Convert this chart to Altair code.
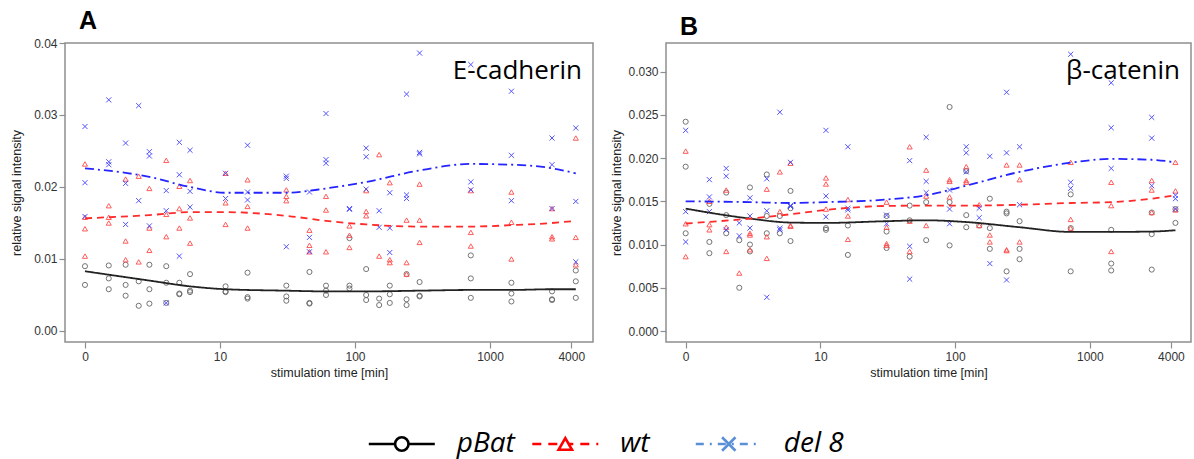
import math
import altair as alt
import pandas as pd

GROUPS = ["pBat", "wt", "del 8"]
PANEL_LABELS = ["E-cadherin", "β-catenin"]
PANEL_LETTERS = ["A", "B"]
X_TICK_LABELS = [0, 10, 100, 1000, 4000]
Y_TICKS_A = [0.0, 0.01, 0.02, 0.03, 0.04]
Y_TICKS_B = [0.0, 0.005, 0.010, 0.015, 0.020, 0.025, 0.030]
CURVE_T = [0, 2, 5, 10, 30, 60, 120, 300, 720, 1440, 2880, 4320]

# ---------- Panel A (E-cadherin) ----------
A_PBAT = {
    0: [0.0090, 0.0064], 0.5: [0.0091, 0.0073, 0.0058], 1: [0.0092, 0.0064, 0.0049],
    1.5: [0.0069, 0.0035], 2: [0.0092, 0.0058, 0.0038], 3: [0.0090, 0.0067, 0.0039],
    4: [0.0067, 0.0052, 0.0051], 5: [0.0079, 0.0056, 0.0054], 10: [0.0062, 0.0055, 0.0054],
    15: [0.0081, 0.0047, 0.0045], 30: [0.0063, 0.0048, 0.0042], 45: [0.0082, 0.0039, 0.0038],
    60: [0.0063, 0.0056, 0.0050], 90: [0.0129, 0.0063, 0.0059], 120: [0.0086, 0.0050, 0.0043],
    150: [0.0045, 0.0036], 180: [0.0063, 0.0051, 0.0039], 240: [0.0079, 0.0044, 0.0036],
    300: [0.0068, 0.0049, 0.0048], 720: [0.0105, 0.0073, 0.0046], 1440: [0.0067, 0.0052, 0.0041],
    2880: [0.0055, 0.0044, 0.0043], 4320: [0.0084, 0.0069, 0.0046],
}
A_WT = {
    0: [0.0232, 0.0158, 0.0142, 0.0104], 0.5: [0.0174, 0.0158, 0.0150], 1: [0.0211, 0.0125, 0.0099],
    1.5: [0.0215, 0.0096], 2: [0.0198, 0.0143, 0.0112], 3: [0.0237, 0.0162, 0.0131],
    4: [0.0201, 0.0170, 0.0143], 5: [0.0209, 0.0157, 0.0122], 10: [0.0219, 0.0178, 0.0148],
    15: [0.0210, 0.0173, 0.0143], 30: [0.0196, 0.0187, 0.0181], 45: [0.0140, 0.0119, 0.0110],
    60: [0.0187, 0.0168, 0.0110], 90: [0.0146, 0.0133, 0.0116], 120: [0.0195, 0.0166, 0.0160],
    150: [0.0245, 0.0104], 180: [0.0206, 0.0099, 0.0095], 240: [0.0154, 0.0095, 0.0079],
    300: [0.0204, 0.0154, 0.0123], 720: [0.0195, 0.0137, 0.0118], 1440: [0.0193, 0.0151, 0.0100],
    2880: [0.0170, 0.0131, 0.0128], 4320: [0.0268, 0.0130, 0.0092],
}
A_DEL8 = {
    0: [0.0284, 0.0206, 0.0159], 0.5: [0.0321, 0.0235, 0.0231], 1: [0.0261, 0.0205, 0.0148],
    1.5: [0.0313, 0.0181], 2: [0.0249, 0.0243, 0.0146], 3: [0.0195, 0.0167, 0.0039],
    4: [0.0262, 0.0217, 0.0104], 5: [0.0251, 0.0194, 0.0172], 10: [0.0219, 0.0184],
    15: [0.0258, 0.0193, 0.0182], 30: [0.0215, 0.0212, 0.0117], 45: [0.0193, 0.0130, 0.0110],
    60: [0.0302, 0.0238, 0.0233], 90: [0.0170, 0.0169], 120: [0.0254, 0.0242, 0.0197],
    150: [0.0167, 0.0144], 180: [0.0192, 0.0143, 0.0109], 240: [0.0329, 0.0189, 0.0184],
    300: [0.0386, 0.0248, 0.0246], 720: [0.0370, 0.0207, 0.0196], 1440: [0.0333, 0.0244, 0.0181],
    2880: [0.0268, 0.0231, 0.0170], 4320: [0.0282, 0.0180, 0.0096],
}
A_FIT_PBAT = [0.0083, 0.0070, 0.0062, 0.0058, 0.0056, 0.0055, 0.0055, 0.0056, 0.0057, 0.0057, 0.0058, 0.0058]
A_FIT_WT = [0.01565, 0.0161, 0.0165, 0.0165, 0.0160, 0.0153, 0.0148, 0.0145, 0.0145, 0.0147, 0.0150, 0.0153]
A_FIT_DEL8 = [0.0226, 0.0214, 0.0200, 0.0192, 0.0192, 0.0198, 0.0207, 0.0223, 0.0232, 0.0231, 0.0226, 0.0219]

# ---------- Panel B (beta-catenin) ----------
B_PBAT = {
    0: [0.0242, 0.0190, 0.0113], 0.5: [0.0147, 0.0103, 0.0090], 1: [0.0160, 0.0134, 0.0113],
    1.5: [0.0105, 0.0050], 2: [0.0166, 0.0100, 0.0092], 3: [0.0181, 0.0133, 0.0113],
    4: [0.0133, 0.0113], 5: [0.0162, 0.0142, 0.0104], 10: [0.0119, 0.0117],
    15: [0.0122, 0.0088], 30: [0.0133, 0.0115, 0.0096], 45: [0.0145, 0.0128, 0.0086],
    60: [0.0149, 0.0105], 90: [0.0259, 0.0149, 0.0099], 120: [0.0185, 0.0134, 0.0120],
    150: [0.0122], 180: [0.0153, 0.0119, 0.0095], 240: [0.0138, 0.0136, 0.0069],
    300: [0.0127, 0.0095, 0.0083], 720: [0.0158, 0.0119, 0.0069], 1440: [0.0117, 0.0078, 0.0070],
    2880: [0.0137, 0.0112, 0.0071], 4320: [0.0141, 0.0125],
}
B_WT = {
    0: [0.0208, 0.0124, 0.0086], 0.5: [0.0150, 0.0123, 0.0117], 1: [0.0163, 0.0120, 0.0092],
    1.5: [0.0067], 2: [0.0113, 0.0111, 0.0094], 3: [0.0164, 0.0109, 0.0084],
    4: [0.0184, 0.0138], 5: [0.0194, 0.0122, 0.0121], 10: [0.0177, 0.0170, 0.0141],
    15: [0.0152, 0.0133, 0.0106], 30: [0.0149, 0.0120, 0.0101, 0.0099], 45: [0.0213, 0.0127, 0.0092],
    60: [0.0186, 0.0156, 0.0122], 90: [0.0175, 0.0173, 0.0155], 120: [0.0190, 0.0174, 0.0172],
    150: [0.0146, 0.0122], 180: [0.0111, 0.0103], 240: [0.0192, 0.0094, 0.0093],
    300: [0.0192, 0.0175, 0.0103], 720: [0.0195, 0.0129, 0.0119], 1440: [0.0172, 0.0145, 0.0092],
    2880: [0.0174, 0.0163, 0.0137], 4320: [0.0195, 0.0162, 0.0140],
}
B_DEL8 = {
    0: [0.0232, 0.0138, 0.0103], 0.5: [0.0175, 0.0155, 0.0138], 1: [0.0188, 0.0179, 0.0117],
    1.5: [0.0125, 0.0110], 2: [0.0154, 0.0133, 0.0119], 3: [0.0176, 0.0139, 0.0039],
    4: [0.0253, 0.0119, 0.0117], 5: [0.0195, 0.0145, 0.0144], 10: [0.0232, 0.0156, 0.0132],
    15: [0.0213, 0.0142, 0.0140], 30: [0.0134, 0.0124], 45: [0.0197, 0.0098, 0.0060],
    60: [0.0224, 0.0173, 0.0160], 90: [0.0163, 0.0141, 0.0124], 120: [0.0213, 0.0206, 0.0184],
    150: [0.0142, 0.0131], 180: [0.0202, 0.0078], 240: [0.0276, 0.0206, 0.0059],
    300: [0.0213, 0.0146], 720: [0.0320, 0.0172, 0.0165], 1440: [0.0287, 0.0235, 0.0188],
    2880: [0.0247, 0.0223, 0.0168], 4320: [0.0157, 0.0153, 0.0141],
}
B_FIT_PBAT = [0.01415, 0.0130, 0.01254, 0.0125, 0.0127, 0.0128, 0.0126, 0.0120, 0.01146, 0.01146, 0.0115, 0.01165]
B_FIT_WT = [0.01243, 0.0130, 0.0135, 0.0140, 0.01446, 0.0145, 0.0145, 0.0146, 0.0148, 0.0149, 0.0153, 0.0157]
B_FIT_DEL8 = [0.0150, 0.0149, 0.0148, 0.0149, 0.0152, 0.0157, 0.0168, 0.0184, 0.01946, 0.0199, 0.0198, 0.0195]

# ---------- styling ----------
AXIS_FONT = "Liberation Sans"
LABEL_FONT = "Open Sans"
XPATH = "M-1,-1L1,1M-1,1L1,-1"
SHAPES = ["circle", "triangle-up", XPATH]
POINT_COLORS = ["#666666", "#ff4a4a", "#4040ff"]
LINE_COLORS = ["#222222", "#ff2a2a", "#2424ff"]
LINE_DASHES = [[1, 0], [7, 5], [9, 4, 2, 4]]
LEGEND_COLORS = ["#000000", "#ff0000", "#5b8fd6"]
LEGEND_DASHES = [[1, 0], [9, 7], [8, 6, 2, 6]]
FRAME = "#8e8e8e"
LOGX = "log(datum.t + 1) / LN10"

x_tick_pos = [0.0 if v == 0 else math.log10(v) for v in X_TICK_LABELS]


def dict_df(d):
    return pd.DataFrame([{"t": t, "v": v} for t, vals in d.items() for v in vals])


def curve_df(vals):
    return pd.DataFrame({"t": CURVE_T, "v": vals})


def panel(pts, fits, letter, label, yticks, yfmt, ydomain, xdomain, width, ytp):
    xscale = alt.Scale(domain=xdomain, nice=False, zero=False)
    yscale = alt.Scale(domain=ydomain, nice=False, zero=False)
    xaxis = alt.Axis(values=x_tick_pos,
                     labelExpr="datum.value < 0.5 ? '0' : format(pow(10, datum.value), '.0f')",
                     title="stimulation time [min]", grid=False, domain=False,
                     tickColor=FRAME, tickSize=6, tickWidth=1.2, labelPadding=3,
                     labelFont=AXIS_FONT, labelFontSize=12, labelColor="#333333",
                     titleFont=AXIS_FONT, titleFontSize=12.5, titleFontWeight="normal",
                     titleColor="#222222", titlePadding=4)
    yaxis = alt.Axis(values=yticks, format=yfmt, title="relative signal intensity",
                     grid=False, domain=False, tickColor=FRAME, tickSize=6, tickWidth=1.2,
                     labelPadding=2, labelFont=AXIS_FONT, labelFontSize=12,
                     labelColor="#333333", titleFont=AXIS_FONT, titleFontSize=12.5,
                     titleFontWeight="normal", titleColor="#222222", titlePadding=ytp)
    enc = dict(x=alt.X("u:Q", scale=xscale, axis=xaxis), y=alt.Y("v:Q", scale=yscale, axis=yaxis))
    layers = []
    for i, d in enumerate(pts):
        layers.append(
            alt.Chart(dict_df(d)).transform_calculate(u=LOGX).mark_point(
                shape=SHAPES[i], filled=False, stroke=POINT_COLORS[i], color=POINT_COLORS[i],
                strokeWidth=1, size=26, opacity=0.9
            ).encode(**enc)
        )
    for i, vals in enumerate(fits):
        layers.append(
            alt.Chart(curve_df(vals)).transform_calculate(u=LOGX).mark_line(
                stroke=LINE_COLORS[i], color=LINE_COLORS[i], strokeDash=LINE_DASHES[i],
                strokeWidth=1.8, interpolate="monotone"
            ).encode(**enc)
        )
    layers.append(
        alt.Chart(pd.DataFrame({"label": [label]})).mark_text(
            align="right", baseline="alphabetic", font=LABEL_FONT, fontSize=26, color="#000000"
        ).encode(text="label:N", x=alt.value(width - 11), y=alt.value(36))
    )
    return alt.layer(*layers).properties(
        width=width, height=299,
        title=alt.Title(letter, anchor="start", frame="group", dx=14, fontSize=25,
                        fontWeight="bold", font=AXIS_FONT, color="#000000", offset=3),
        view=alt.ViewBackground(stroke=FRAME, strokeWidth=1.5),
    )


chartA = panel([A_PBAT, A_WT, A_DEL8], [A_FIT_PBAT, A_FIT_WT, A_FIT_DEL8], PANEL_LETTERS[0],
               PANEL_LABELS[0], Y_TICKS_A, ".2f", [-0.00153, 0.04], [-0.148, 3.763], 528, 10)
chartB = panel([B_PBAT, B_WT, B_DEL8], [B_FIT_PBAT, B_FIT_WT, B_FIT_DEL8], PANEL_LETTERS[1],
               PANEL_LABELS[1], Y_TICKS_B, ".3f", [-0.00127, 0.0333], [-0.146, 3.751], 525, 4)

# ---------- bottom legend ----------
leg_df = pd.DataFrame({"name": GROUPS, "idx": list(range(len(GROUPS)))})
leg_x = alt.X("idx:Q", scale=alt.Scale(domain=[-2.06, 4.668], nice=False, zero=False), axis=None)
leg_rule = alt.Chart(leg_df).mark_rule(strokeWidth=2.5, xOffset=-33, x2Offset=33).encode(
    x=leg_x, x2=alt.X2("idx"), y=alt.value(20),
    stroke=alt.Stroke("name:N", scale=alt.Scale(domain=GROUPS, range=LEGEND_COLORS), legend=None),
    strokeDash=alt.StrokeDash("name:N", scale=alt.Scale(domain=GROUPS, range=LEGEND_DASHES), legend=None),
)
leg_pt = alt.Chart(leg_df).mark_point(filled=True, fill="white", strokeWidth=2.6, size=180, opacity=1).encode(
    x=leg_x, y=alt.value(20),
    shape=alt.Shape("name:N", scale=alt.Scale(domain=GROUPS, range=SHAPES), legend=None),
    stroke=alt.Stroke("name:N", scale=alt.Scale(domain=GROUPS, range=LEGEND_COLORS), legend=None),
)
leg_txt = alt.Chart(leg_df).mark_text(
    align="left", baseline="middle", dx=55, font=LABEL_FONT, fontStyle="italic", fontSize=28, color="#000000"
).encode(x=leg_x, y=alt.value(20), text="name:N")
legend = alt.layer(leg_rule, leg_pt, leg_txt).properties(
    width=1100, height=40, view=alt.ViewBackground(stroke=None)
)

chart = alt.vconcat(
    alt.hconcat(chartA, chartB, spacing=16),
    legend, spacing=44,
).properties(
    padding={"left": 9, "top": 8, "right": 0, "bottom": 0},
    background="white",
).configure_view(stroke=None)

chart.save("out.html", embed_options={"renderer": "svg", "actions": False})
